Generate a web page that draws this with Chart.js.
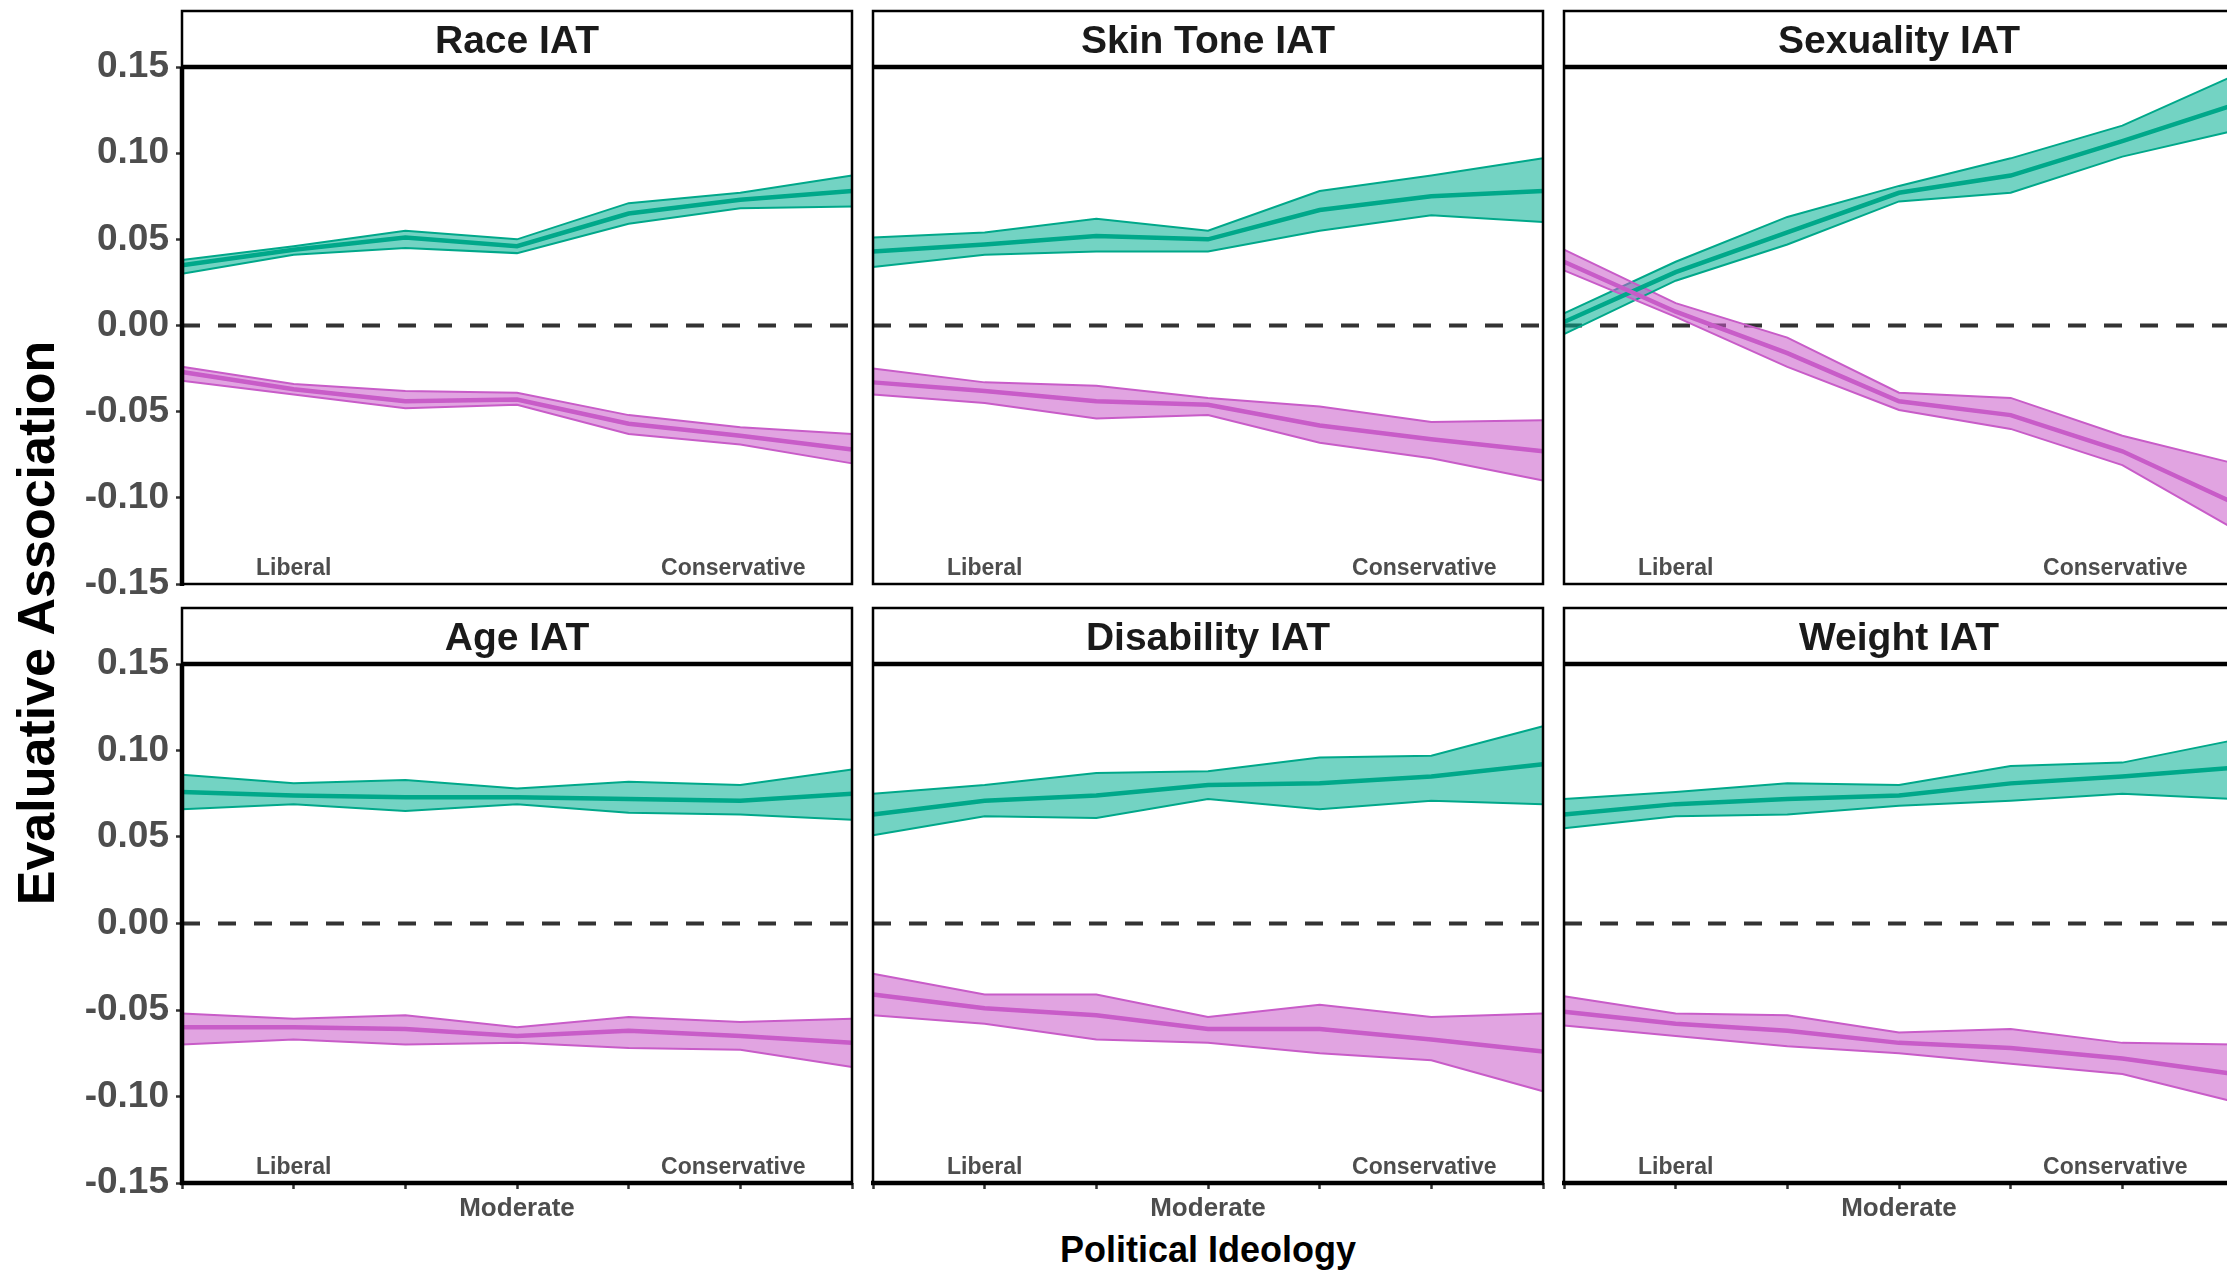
<!DOCTYPE html>
<html>
<head>
<meta charset="utf-8">
<title>Evaluative association by political ideology</title>
<script src="https://cdn.jsdelivr.net/npm/chart.js@4.4.1/dist/chart.umd.min.js"></script>
<style>
  html, body { margin: 0; padding: 0; background: #fff; overflow: hidden; }
  body { position: relative; width: 2227px; height: 1274px; font-family: "Liberation Sans", Arial, sans-serif; }
  canvas { position: absolute; }
  .ytitle {
    position: absolute; left: 36px; top: 623px;
    transform: translate(-50%, -50%) rotate(-90deg);
    font: bold 52px "Liberation Sans", Arial, sans-serif; color: #000; white-space: nowrap;
  }
  .xtitle {
    position: absolute; left: 1208px; top: 1250px;
    transform: translate(-50%, -50%);
    font: bold 36px "Liberation Sans", Arial, sans-serif; color: #000; white-space: nowrap;
  }
</style>
</head>
<body>
<div class="ytitle">Evaluative Association</div>
<div class="xtitle">Political Ideology</div>
<script>
// ideology scale (7 points), only some of them get a visible label
const ideology = ['Very Liberal', 'Liberal', 'Slightly Liberal', 'Moderate', 'Slightly Conservative', 'Conservative', 'Very Conservative'];
const yTicks = [-0.15, -0.10, -0.05, 0.00, 0.05, 0.10, 0.15];
const titles = ['Race IAT', 'Skin Tone IAT', 'Sexuality IAT', 'Age IAT', 'Disability IAT', 'Weight IAT'];

// teal = positive association, pink = negative association (mean, lower, upper)
const racePos     = [0.035, 0.044, 0.051, 0.046, 0.065, 0.073, 0.078];
const racePosLo   = [0.030, 0.041, 0.045, 0.042, 0.059, 0.068, 0.069];
const racePosHi   = [0.038, 0.046, 0.055, 0.050, 0.071, 0.077, 0.087];
const raceNeg     = [-0.027, -0.037, -0.044, -0.043, -0.057, -0.064, -0.072];
const raceNegLo   = [-0.032, -0.040, -0.048, -0.046, -0.063, -0.069, -0.080];
const raceNegHi   = [-0.024, -0.034, -0.038, -0.039, -0.052, -0.059, -0.063];

const skinPos     = [0.043, 0.047, 0.052, 0.050, 0.067, 0.075, 0.078];
const skinPosLo   = [0.034, 0.041, 0.043, 0.043, 0.055, 0.064, 0.060];
const skinPosHi   = [0.051, 0.054, 0.062, 0.055, 0.078, 0.087, 0.097];
const skinNeg     = [-0.033, -0.038, -0.044, -0.046, -0.058, -0.066, -0.073];
const skinNegLo   = [-0.040, -0.045, -0.054, -0.052, -0.068, -0.077, -0.090];
const skinNegHi   = [-0.025, -0.033, -0.035, -0.042, -0.047, -0.056, -0.055];

const sexPos      = [0.002, 0.031, 0.054, 0.077, 0.087, 0.107, 0.128];
const sexPosLo    = [-0.005, 0.026, 0.047, 0.072, 0.077, 0.098, 0.113];
const sexPosHi    = [0.007, 0.037, 0.063, 0.081, 0.097, 0.116, 0.145];
const sexNeg      = [0.037, 0.008, -0.016, -0.044, -0.052, -0.073, -0.103];
const sexNegLo    = [0.032, 0.005, -0.024, -0.049, -0.060, -0.081, -0.118];
const sexNegHi    = [0.044, 0.013, -0.007, -0.039, -0.042, -0.064, -0.080];

const agePos      = [0.076, 0.074, 0.073, 0.073, 0.072, 0.071, 0.075];
const agePosLo    = [0.066, 0.069, 0.065, 0.069, 0.064, 0.063, 0.060];
const agePosHi    = [0.086, 0.081, 0.083, 0.078, 0.082, 0.080, 0.089];
const ageNeg      = [-0.060, -0.060, -0.061, -0.065, -0.062, -0.065, -0.069];
const ageNegLo    = [-0.070, -0.067, -0.070, -0.069, -0.072, -0.073, -0.083];
const ageNegHi    = [-0.052, -0.055, -0.053, -0.060, -0.054, -0.057, -0.055];

const disPos      = [0.063, 0.071, 0.074, 0.080, 0.081, 0.085, 0.092];
const disPosLo    = [0.051, 0.062, 0.061, 0.072, 0.066, 0.071, 0.069];
const disPosHi    = [0.075, 0.080, 0.087, 0.088, 0.096, 0.097, 0.114];
const disNeg      = [-0.041, -0.049, -0.053, -0.061, -0.061, -0.067, -0.074];
const disNegLo    = [-0.053, -0.058, -0.067, -0.069, -0.075, -0.079, -0.097];
const disNegHi    = [-0.029, -0.041, -0.041, -0.054, -0.047, -0.054, -0.052];

const weightPos   = [0.063, 0.069, 0.072, 0.074, 0.081, 0.085, 0.090];
const weightPosLo = [0.055, 0.062, 0.063, 0.068, 0.071, 0.075, 0.072];
const weightPosHi = [0.072, 0.076, 0.081, 0.080, 0.091, 0.093, 0.106];
const weightNeg   = [-0.051, -0.058, -0.062, -0.069, -0.072, -0.078, -0.087];
const weightNegLo = [-0.059, -0.065, -0.071, -0.075, -0.081, -0.087, -0.103];
const weightNegHi = [-0.042, -0.052, -0.053, -0.063, -0.061, -0.069, -0.070];

const panels = [
  [racePos, racePosLo, racePosHi, raceNeg, raceNegLo, raceNegHi],
  [skinPos, skinPosLo, skinPosHi, skinNeg, skinNegLo, skinNegHi],
  [sexPos, sexPosLo, sexPosHi, sexNeg, sexNegLo, sexNegHi],
  [agePos, agePosLo, agePosHi, ageNeg, ageNegLo, ageNegHi],
  [disPos, disPosLo, disPosHi, disNeg, disNegLo, disNegHi],
  [weightPos, weightPosLo, weightPosHi, weightNeg, weightNegLo, weightNegHi]
];

// facet layout
const colLeft = [182, 873, 1564];
const rowTop = [67, 664];
const rowHeight = [517, 519];
const panelWidth = 670;
const stripHeight = 56;

const TEAL = '#00a88a', TEAL_FILL = 'rgba(0,175,145,0.55)';
const PINK = '#c85cc8', PINK_FILL = 'rgba(200,90,200,0.55)';
const GREY = '#4d4d4d';
const FONT = '"Liberation Sans", Arial, sans-serif';

Chart.defaults.font.family = FONT;

function band(mean, lo, hi, line, fill) {
  return [
    { data: hi, borderColor: line, borderWidth: 2, backgroundColor: fill, fill: '+1', pointRadius: 0, order: 2 },
    { data: lo, borderColor: line, borderWidth: 2, fill: false, pointRadius: 0, order: 1 },
    { data: mean, borderColor: line, borderWidth: 4.5, fill: false, pointRadius: 0, order: 0 }
  ];
}

const panelDecor = {
  id: 'panelDecor',
  beforeDatasetsDraw(chart) {
    const { ctx, chartArea: a, scales } = chart;
    const y0 = scales.y.getPixelForValue(0);
    ctx.save();
    ctx.strokeStyle = '#333';
    ctx.lineWidth = 4;
    ctx.setLineDash([18, 18]);
    ctx.beginPath();
    ctx.moveTo(a.left, y0);
    ctx.lineTo(a.right, y0);
    ctx.stroke();
    ctx.restore();
  },
  afterDatasetsDraw(chart) {
    const { ctx, chartArea: a, scales } = chart;
    ctx.save();
    ctx.fillStyle = GREY;
    ctx.font = 'bold 23px ' + FONT;
    ctx.textAlign = 'center';
    ctx.textBaseline = 'alphabetic';
    ctx.fillText(ideology[1], scales.x.getPixelForValue(1), a.bottom - 9);
    ctx.fillText(ideology[5], scales.x.getPixelForValue(5) - 7, a.bottom - 9);
    ctx.restore();
  },
  afterDraw(chart, args, opts) {
    const { ctx, chartArea: a } = chart;
    const top = a.top - stripHeight;
    ctx.save();
    // strip
    ctx.fillStyle = '#fff';
    ctx.fillRect(a.left, top, a.right - a.left, stripHeight);
    ctx.strokeStyle = '#000';
    ctx.lineWidth = 2.5;
    ctx.strokeRect(a.left, top, a.right - a.left, a.bottom - top);
    ctx.fillStyle = '#1a1a1a';
    ctx.font = 'bold 39px ' + FONT;
    ctx.textAlign = 'center';
    ctx.textBaseline = 'alphabetic';
    ctx.fillText(opts.title, (a.left + a.right) / 2, a.top - 14);
    // thicker strip bottom and axis lines
    ctx.lineWidth = 4.5;
    ctx.beginPath();
    ctx.moveTo(a.left - 1, a.top);
    ctx.lineTo(a.right + 1, a.top);
    if (opts.col === 0) {
      ctx.moveTo(a.left, a.top);
      ctx.lineTo(a.left, a.bottom + 2);
    }
    if (opts.row === 1) {
      ctx.moveTo(a.left - 2, a.bottom);
      ctx.lineTo(a.right + 1, a.bottom);
    }
    ctx.stroke();
    ctx.restore();
  }
};

panels.forEach((series, i) => {
  const col = i % 3, row = Math.floor(i / 3);
  const cLeft = col === 0 ? 0 : colLeft[col] - 6;
  const cTop = rowTop[row] - 62;
  const padBottom = row === 0 ? 34 : 2;
  const xHeight = row === 0 ? 0 : 48;
  const w = colLeft[col] + panelWidth + 6 - cLeft;
  const h = 62 + rowHeight[row] + xHeight + padBottom;

  const canvas = document.createElement('canvas');
  canvas.width = w;
  canvas.height = h;
  canvas.style.left = cLeft + 'px';
  canvas.style.top = cTop + 'px';
  canvas.style.width = w + 'px';
  canvas.style.height = h + 'px';
  document.body.appendChild(canvas);

  const [pos, posLo, posHi, neg, negLo, negHi] = series;

  new Chart(canvas.getContext('2d'), {
    type: 'line',
    data: {
      labels: ideology,
      datasets: [
        ...band(neg, negLo, negHi, PINK, PINK_FILL),
        ...band(pos, posLo, posHi, TEAL, TEAL_FILL)
      ]
    },
    options: {
      responsive: false,
      animation: false,
      devicePixelRatio: 1,
      layout: { padding: { left: col === 0 ? 0 : 6, right: 6, top: 62, bottom: padBottom } },
      elements: { line: { tension: 0 } },
      plugins: {
        legend: { display: false },
        tooltip: { enabled: false },
        panelDecor: { title: titles[i], col, row }
      },
      scales: {
        x: {
          display: row === 1,
          offset: false,
          afterFit: s => { s.height = xHeight; },
          grid: { drawOnChartArea: false, drawTicks: true, tickLength: 6, tickWidth: 2.5, tickColor: '#333' },
          border: { display: false },
          ticks: {
            autoSkip: false, maxRotation: 0, padding: 4, color: GREY,
            font: { size: 26, weight: 'bold' },
            callback: (v, idx) => idx === 3 ? ideology[3] : ''
          }
        },
        y: {
          display: col === 0,
          min: -0.15,
          max: 0.15,
          afterFit: s => { s.width = col === 0 ? 182 : 0; },
          afterBuildTicks: s => { s.ticks = yTicks.map(v => ({ value: v })); },
          grid: { drawOnChartArea: false, drawTicks: true, tickLength: 6, tickWidth: 2.5, tickColor: '#333' },
          border: { display: false },
          ticks: {
            padding: 7, color: GREY,
            font: { size: 37, weight: 'bold' },
            callback: v => v.toFixed(2)
          }
        }
      }
    },
    plugins: [panelDecor]
  });
});
</script>
</body>
</html>
